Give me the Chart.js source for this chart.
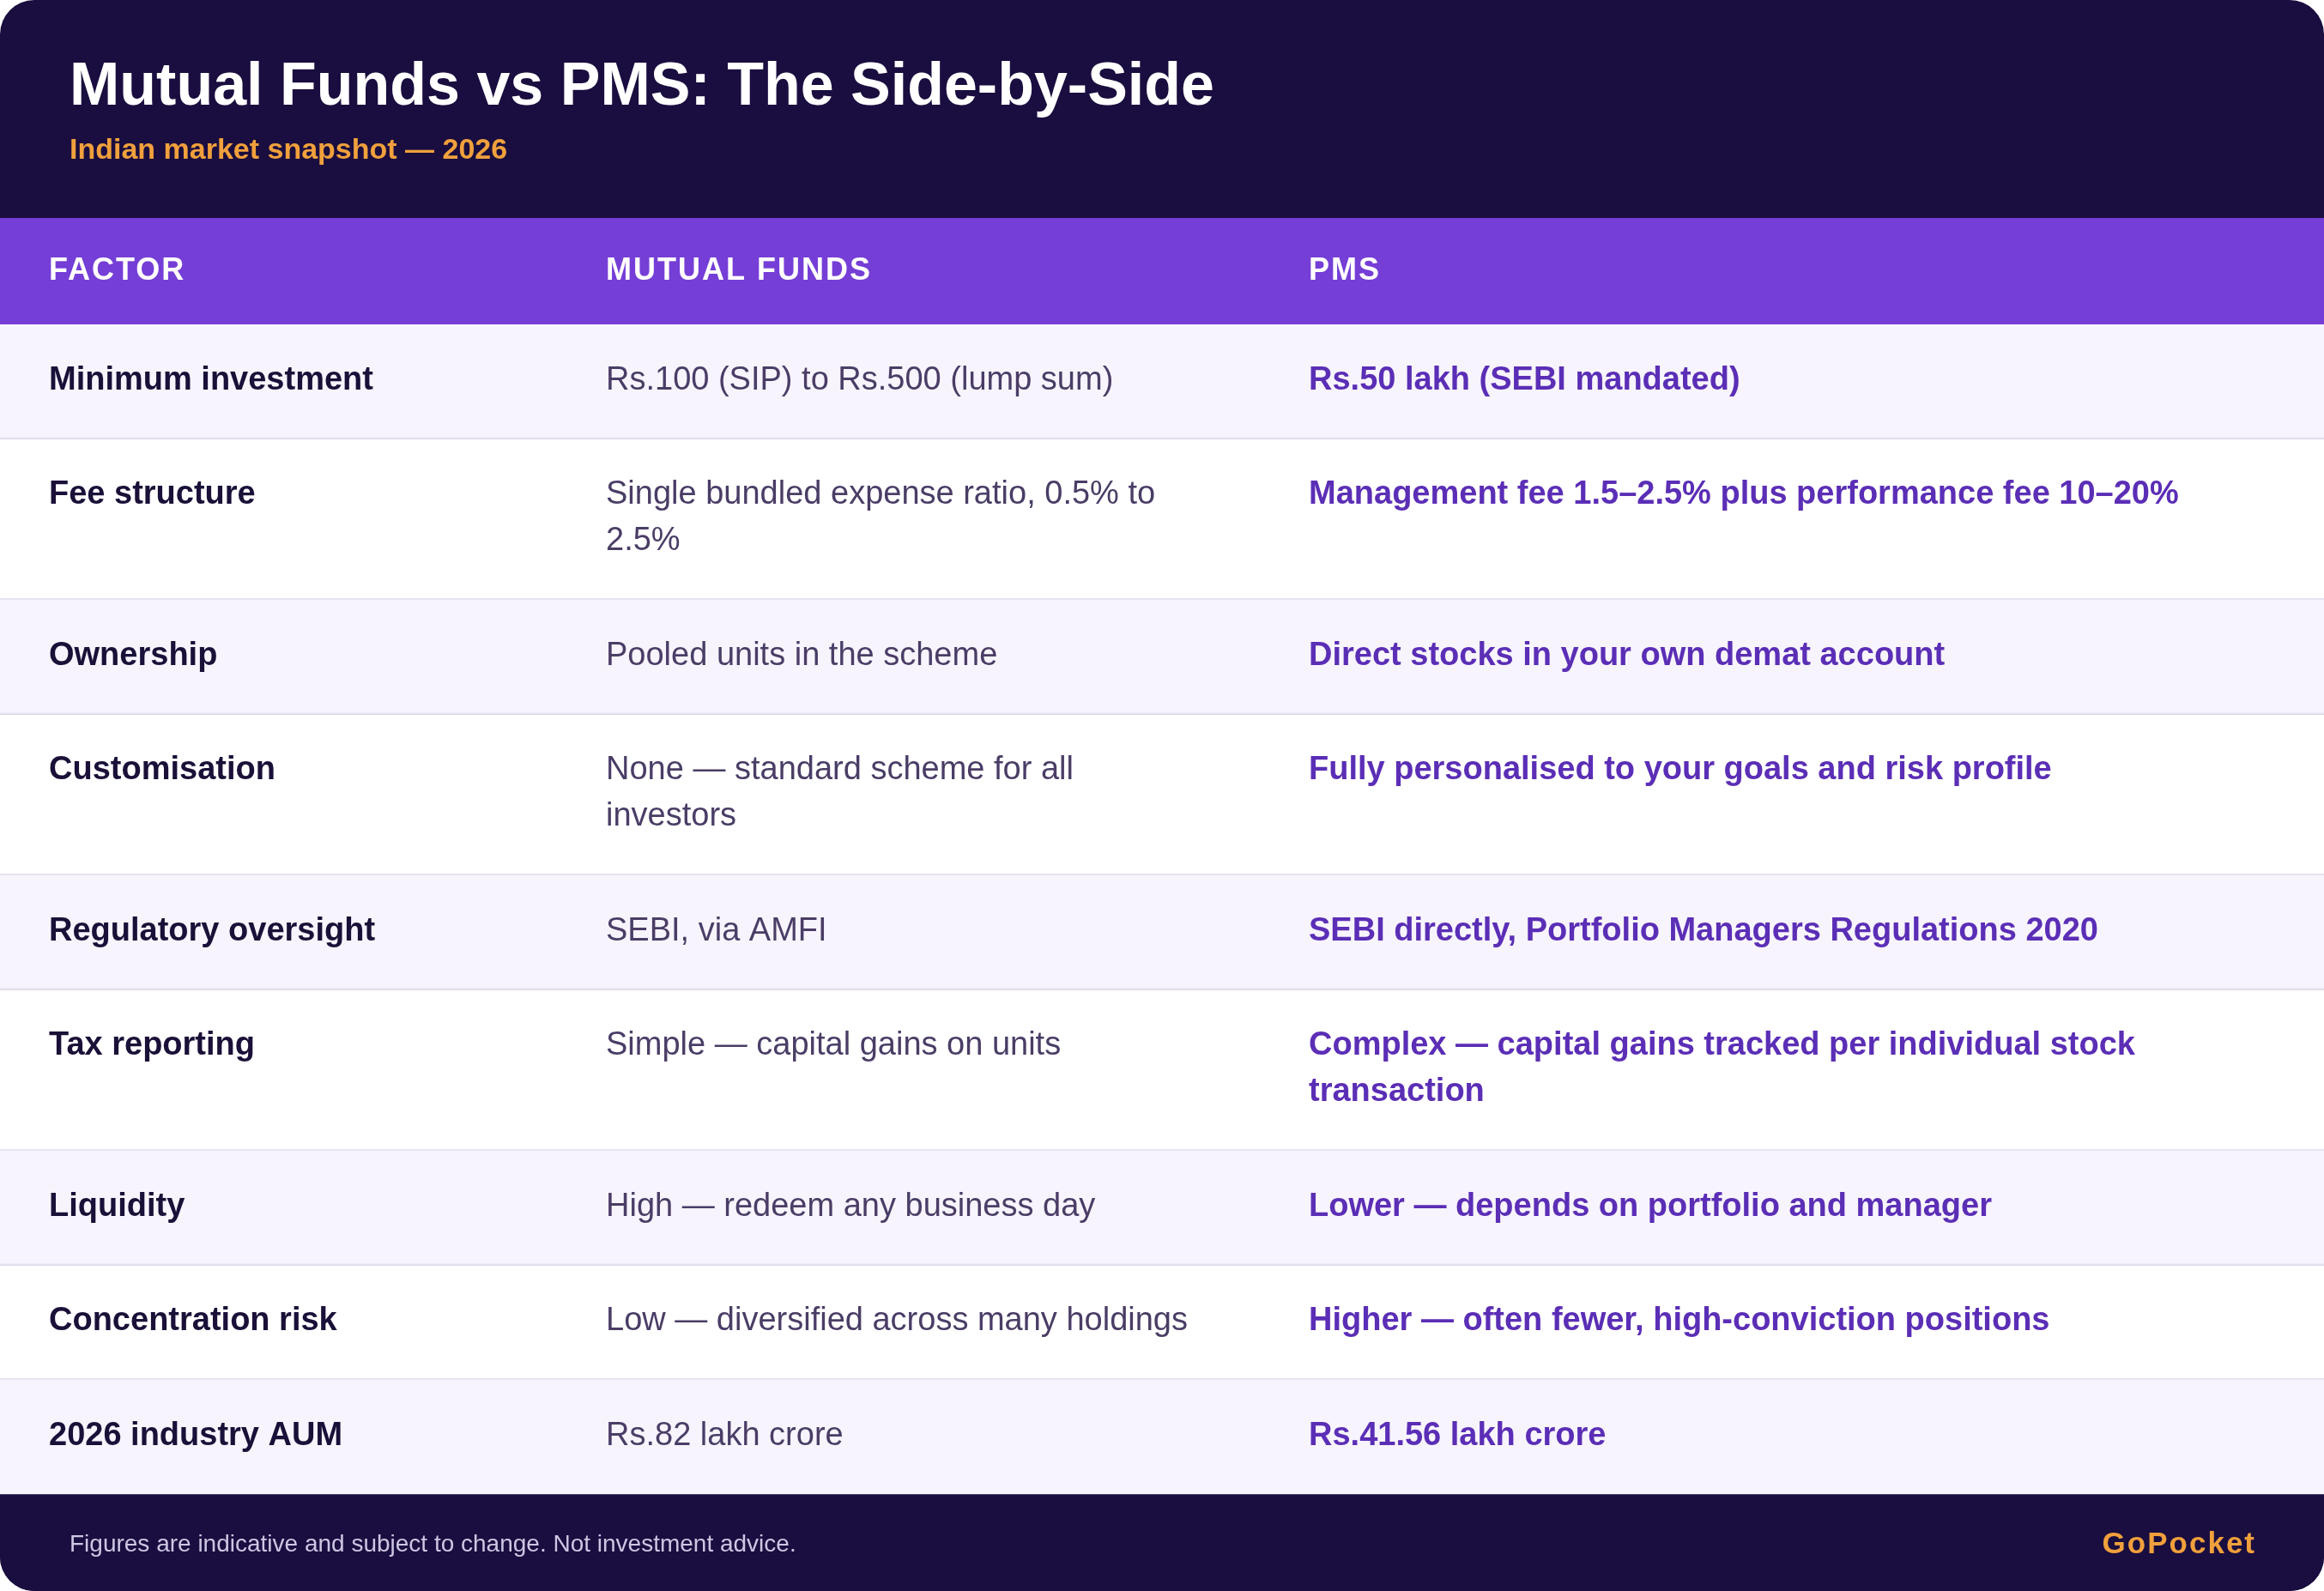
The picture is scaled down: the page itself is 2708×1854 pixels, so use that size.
<!DOCTYPE html>
<html><head><meta charset="utf-8">
<script src="https://cdn.jsdelivr.net/npm/chart.js@4.4.1/dist/chart.umd.min.js"></script>
<style>html,body{margin:0;padding:0;background:#fff;overflow:hidden}canvas{display:block}</style>
</head><body>
<canvas id="c" width="2708" height="1854" style="width:2708px;height:1854px"></canvas>
<script>
// ---- data ----
const titleText = 'Mutual Funds vs PMS: The Side-by-Side';
const subtitleText = 'Indian market snapshot \u2014 2026';
const columnHeaders = ['FACTOR', 'MUTUAL FUNDS', 'PMS'];
const factors = [
  'Minimum investment', 'Fee structure', 'Ownership', 'Customisation',
  'Regulatory oversight', 'Tax reporting', 'Liquidity', 'Concentration risk', '2026 industry AUM'
];
const mutualFunds = [
  'Rs.100 (SIP) to Rs.500 (lump sum)',
  'Single bundled expense ratio, 0.5% to\n2.5%',
  'Pooled units in the scheme',
  'None \u2014 standard scheme for all\ninvestors',
  'SEBI, via AMFI',
  'Simple \u2014 capital gains on units',
  'High \u2014 redeem any business day',
  'Low \u2014 diversified across many holdings',
  'Rs.82 lakh crore'
];
const pms = [
  'Rs.50 lakh (SEBI mandated)',
  'Management fee 1.5\u20132.5% plus performance fee 10\u201320%',
  'Direct stocks in your own demat account',
  'Fully personalised to your goals and risk profile',
  'SEBI directly, Portfolio Managers Regulations 2020',
  'Complex \u2014 capital gains tracked per individual stock\ntransaction',
  'Lower \u2014 depends on portfolio and manager',
  'Higher \u2014 often fewer, high-conviction positions',
  'Rs.41.56 lakh crore'
];
const footnote = 'Figures are indicative and subject to change. Not investment advice.';
const brand = 'GoPocket';

// ---- layout / style (not data) ----
const L = {
  W: 2708, H: 1854, radius: 40,
  headerH: 254, colHeadH: 124,
  padV: 79.5, lineH: 54, border: 2, baseOff: 75.5,
  colStart: [0, 649, 1468], inset: 57,
  titleX: 81, titleBase: 122, subBase: 185,
  headBase: 72, footBase: 66, brandRight: 2627
};
const C = {
  dark: '#1a0d3f', purple: '#753ed7', stripe: '#f7f4fd', white: '#ffffff', border: '#e8e3f3',
  factor: '#1a1038', mf: '#4a3d66', pms: '#5b2eb6', orange: '#f0a03c', foot: '#cdc6e3', headText: '#ffffff'
};
const FONT = '"Liberation Sans", Arial, Helvetica, sans-serif';

const tablePlugin = {
  id: 'tablePlugin',
  beforeDraw(chart) {
    const { ctx } = chart;
    const xs = chart.scales.x, ys = chart.scales.y;
    const X = v => xs.getPixelForValue(v);
    const Y = v => ys.getPixelForValue(v);
    ctx.save();
    ctx.fillStyle = '#ffffff';
    ctx.fillRect(0, 0, chart.width, chart.height);
    // card clip
    ctx.beginPath();
    ctx.roundRect(X(0), Y(0), X(L.W) - X(0), Y(L.H) - Y(0), L.radius);
    ctx.clip();
    ctx.fillStyle = C.dark;
    ctx.fillRect(X(0), Y(0), X(L.W) - X(0), Y(L.H) - Y(0));

    // title
    ctx.textAlign = 'left';
    ctx.textBaseline = 'alphabetic';
    ctx.fillStyle = '#ffffff';
    ctx.font = 'bold 70px ' + FONT;
    ctx.fillText(titleText, X(L.titleX), Y(L.titleBase));
    ctx.fillStyle = C.orange;
    ctx.font = 'bold 34px ' + FONT;
    ctx.fillText(subtitleText, X(L.titleX), Y(L.subBase));

    // column header band
    const hTop = L.headerH, hBot = L.headerH + L.colHeadH;
    ctx.fillStyle = C.purple;
    ctx.fillRect(X(0), Y(hTop), X(L.W) - X(0), Y(hBot) - Y(hTop));
    ctx.fillStyle = C.headText;
    ctx.font = 'bold 36px ' + FONT;
    ctx.letterSpacing = '2px';
    columnHeaders.forEach((h, i) => {
      ctx.fillText(h, X(L.colStart[i] + L.inset), Y(hTop + L.headBase));
    });
    ctx.letterSpacing = '0px';

    // rows
    let top = hBot;
    const cols = [factors, mutualFunds, pms];
    const styles = [
      { font: 'bold 38px ' + FONT, color: C.factor },
      { font: '38px ' + FONT, color: C.mf },
      { font: 'bold 38px ' + FONT, color: C.pms }
    ];
    factors.forEach((f, r) => {
      const cellLines = cols.map(col => col[r].split('\n'));
      const n = Math.max(...cellLines.map(l => l.length));
      const h = L.padV + n * L.lineH;
      const bot = top + h;
      ctx.fillStyle = (r % 2 === 0) ? C.stripe : C.white;
      ctx.fillRect(X(0), Y(top), X(L.W) - X(0), Y(bot) - Y(top));
      if (r < factors.length - 1) {
        ctx.fillStyle = C.border;
        ctx.fillRect(X(0), Y(bot - L.border), X(L.W) - X(0), Y(bot) - Y(bot - L.border));
      }
      cellLines.forEach((lines, c) => {
        ctx.font = styles[c].font;
        ctx.fillStyle = styles[c].color;
        lines.forEach((t, k) => {
          ctx.fillText(t, X(L.colStart[c] + L.inset), Y(top + L.baseOff + k * L.lineH));
        });
      });
      top = bot;
    });

    // footer
    const fTop = top;
    ctx.fillStyle = C.dark;
    ctx.fillRect(X(0), Y(fTop), X(L.W) - X(0), Y(L.H) - Y(fTop));
    ctx.fillStyle = C.foot;
    ctx.font = '28px ' + FONT;
    ctx.fillText(footnote, X(L.titleX), Y(fTop + L.footBase));
    ctx.fillStyle = C.orange;
    ctx.font = 'bold 35px ' + FONT;
    ctx.letterSpacing = '2px';
    ctx.textAlign = 'right';
    ctx.fillText(brand, X(L.brandRight + 2), Y(fTop + L.footBase + 2));
    ctx.letterSpacing = '0px';
    ctx.restore();
  }
};

new Chart(document.getElementById('c'), {
  type: 'bar',
  data: { labels: factors, datasets: [] },
  options: {
    responsive: false,
    animation: false,
    devicePixelRatio: 1,
    events: [],
    layout: { padding: 0 },
    plugins: { legend: { display: false }, tooltip: { enabled: false }, title: { display: false } },
    scales: {
      x: { type: 'linear', min: 0, max: L.W, offset: false, display: false },
      y: { type: 'linear', min: 0, max: L.H, offset: false, reverse: true, display: false }
    }
  },
  plugins: [tablePlugin]
});
</script>
</body></html>
